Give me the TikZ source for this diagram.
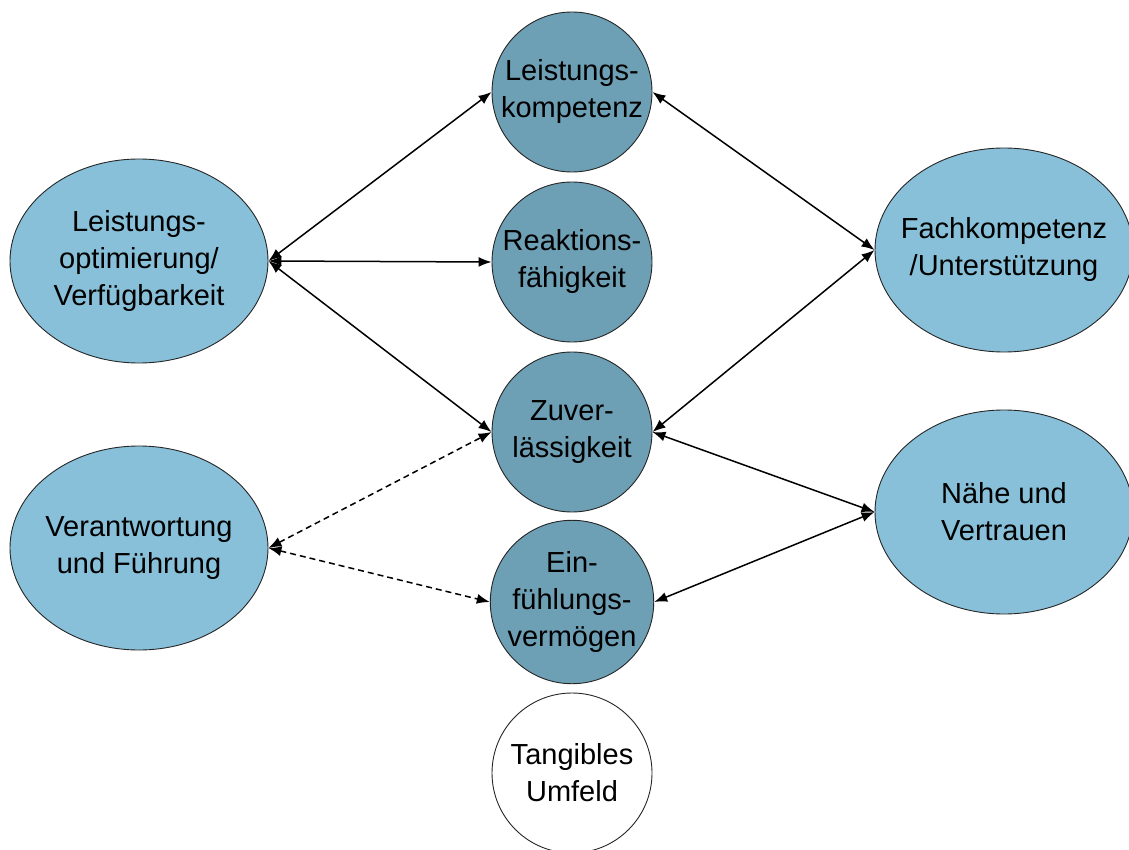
\documentclass[tikz,border=0pt]{standalone}
\usepackage{fontspec}
\setmainfont{Liberation Sans}
\usetikzlibrary{shapes.geometric,arrows.meta}
\definecolor{circfill}{HTML}{6D9FB5}
\definecolor{ellfill}{HTML}{87C0D8}
\begin{document}
\begin{tikzpicture}[x=1pt,y=-1pt,
  txt/.style={align=center,font=\fontsize{29}{37}\selectfont,text=black},
  circ/.style={txt,circle,draw=black!85,line width=0.9pt,fill=circfill,minimum size=160pt,inner sep=0pt},
  wcirc/.style={circ,fill=white},
  ell/.style={txt,ellipse,draw=black!85,line width=0.9pt,fill=ellfill,minimum width=258pt,minimum height=204pt,inner sep=-30pt},
  link/.style={line width=1.5pt,{Latex[length=13pt,width=10pt]}-{Latex[length=13pt,width=10pt]}},
  dlink/.style={link,dash pattern=on 6pt off 4pt}]
\useasboundingbox (0,0) rectangle (1129,850);
\node[circ] (lk) at (572,92) {Leistungs-\\kompetenz};
\node[circ] (rf) at (572,262) {Reaktions-\\fähigkeit};
\node[circ] (zv) at (572,432) {Zuver-\\lässigkeit};
\node[circ] (ef) at (572,602) {Ein-\\fühlungs-\\vermögen};
\node[wcirc] (tu) at (572,773) {Tangibles\\Umfeld};
\node[ell] (lo) at (139,261) {Leistungs-\\optimierung/\\Verfügbarkeit};
\node[ell] (vf) at (139,548) {Verantwortung\\und Führung};
\node[ell] (fk) at (1004,250) {Fachkompetenz\\/Unterstützung};
\node[ell] (nv) at (1004,512) {Nähe und\\Vertrauen};
\draw[link] (lo.east) -- (lk.west);
\draw[link] (lo.east) -- (rf.west);
\draw[link] (lo.east) -- (zv.west);
\draw[link] (lk.east) -- (fk.west);
\draw[link] (fk.west) -- (zv.east);
\draw[link] (zv.east) -- (nv.west);
\draw[link] (nv.west) -- (ef.east);
\draw[dlink] (vf.east) -- (zv.west);
\draw[dlink] (vf.east) -- (ef.west);
\end{tikzpicture}
\end{document}
